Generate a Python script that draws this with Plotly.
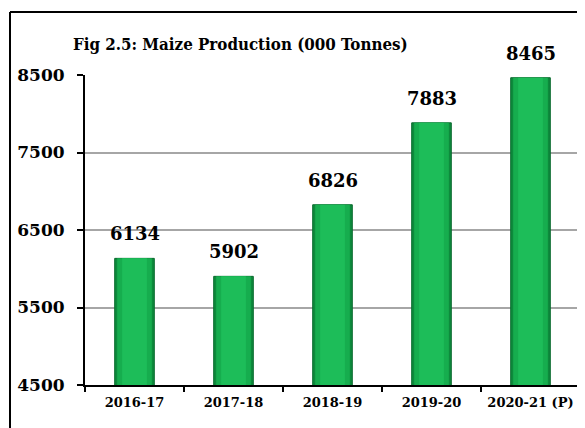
import plotly.graph_objects as go

categories = ["2016-17", "2017-18", "2018-19", "2019-20", "2020-21 (P)"]
production = [6134, 5902, 6826, 7883, 8465]
y_ticks = [4500, 5500, 6500, 7500, 8500]

FONT = "DejaVu Serif"
TFONT = "DejaVu Serif Condensed"

fig = go.Figure()
# cylinder-like shading via overlaid bars
fig.add_trace(go.Bar(x=categories, y=production, width=0.40,
                     marker=dict(color="#0d8a3c", line=dict(color="#0a6a2e", width=1)),
                     hoverinfo="skip", showlegend=False))
fig.add_trace(go.Bar(x=categories, y=production, width=0.35,
                     marker=dict(color="#16ad4e", line=dict(width=0)),
                     hoverinfo="skip", showlegend=False))
fig.add_trace(go.Bar(x=categories, y=production, width=0.25,
                     marker=dict(color="#1dbd59", line=dict(width=0)),
                     hoverinfo="skip", showlegend=False))

for c, v in zip(categories, production):
    fig.add_annotation(x=c, y=v, text=f"<b>{v}</b>", showarrow=False,
                       yanchor="bottom", yshift=12,
                       font=dict(family=FONT, size=18, color="black"))

fig.update_layout(
    width=577, height=420,
    margin=dict(l=77, r=5, t=67, b=43),
    paper_bgcolor="white", plot_bgcolor="white",
    barmode="overlay",
    title=dict(text="<b>Fig 2.5: Maize Production (000 Tonnes)</b>",
               font=dict(family=TFONT, size=16.8, color="black"),
               xref="container", yref="container",
               x=65/577, xanchor="left", y=1-36/420, yanchor="middle"),
    showlegend=False,
)
fig.update_xaxes(
    type="category", tickson="boundaries", ticks="outside", ticklen=5,
    tickwidth=2, tickcolor="black",
    showline=True, linecolor="black", linewidth=2,
    tickfont=dict(family=FONT, size=13, color="black"),
    showgrid=False, ticklabelstandoff=4,
    tickvals=categories, ticktext=[f"<b>{c}</b>" for c in categories],
)
fig.update_yaxes(
    range=[4500, 8500], tickvals=y_ticks, ticktext=[f"<b>{t}</b>" for t in y_ticks],
    ticks="outside", ticklen=6, tickwidth=2, tickcolor="black",
    showline=True, linecolor="black", linewidth=2,
    showgrid=True, gridcolor="#a6a6a6", gridwidth=1.5,
    tickfont=dict(family=FONT, size=17, color="black"),
    zeroline=False, ticklabelstandoff=9,
)

# outer frame (left and top edges visible)
fx = (2 - 77) / 495
fy = 1 + (67 - 4) / 310
fig.add_shape(type="line", xref="paper", yref="paper",
              x0=fx, x1=1.05, y0=fy, y1=fy,
              line=dict(color="black", width=2))
fig.add_shape(type="line", xref="paper", yref="paper",
              x0=fx, x1=fx, y0=fy, y1=-0.2,
              line=dict(color="black", width=2))

fig.write_html("out.html")
